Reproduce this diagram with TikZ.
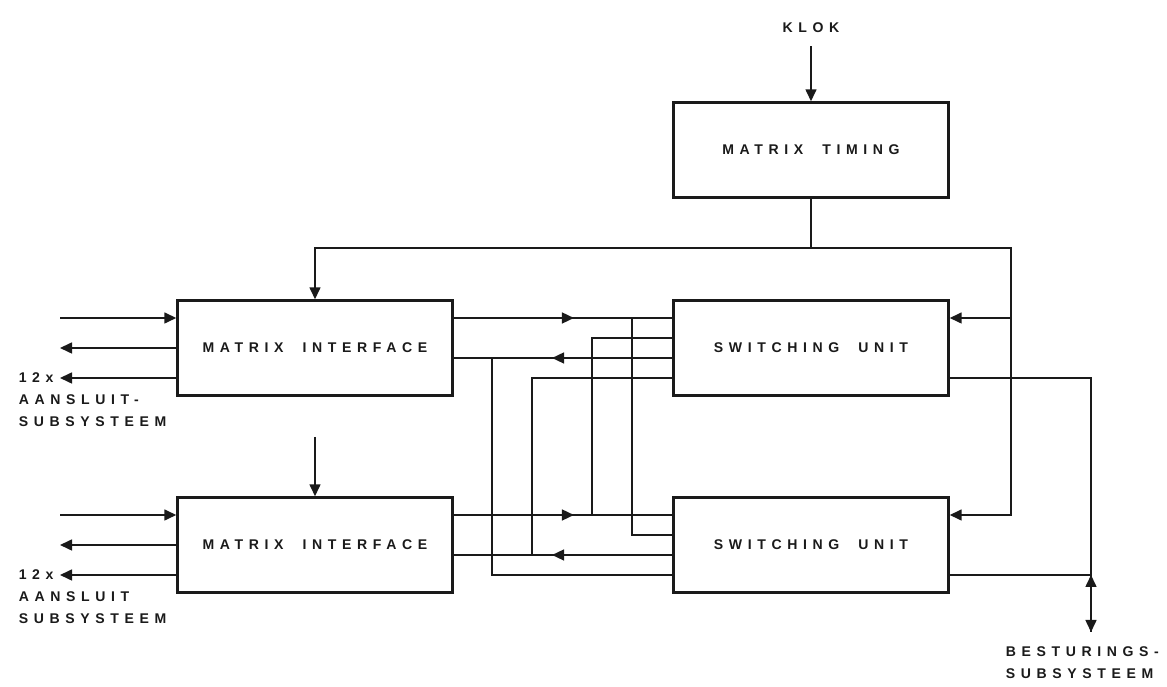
\documentclass[tikz,border=0pt]{standalone}
\usepackage{fontspec}
\usepackage{xcolor}
\usetikzlibrary{arrows.meta,positioning,decorations.markings}
\newfontfamily\blokfont[LetterSpace=40,WordSpace=2,BoldFont={Liberation Sans Bold}]{Liberation Sans}
\definecolor{inkt}{HTML}{1A1A1A}

\begin{document}
\begin{tikzpicture}[font=\fontsize{8}{12.5}\blokfont\bfseries, inkt, line width=0.9pt,
  blok/.style={draw=inkt,line width=1.4pt,minimum width=5.5cm,minimum height=1.9cm,inner sep=0pt},
  tekst/.style={align=left,inner sep=0pt},
  pijl/.style={-{Triangle[length=2.4mm,width=2.2mm]}},
  midpijl/.style={postaction={decorate},decoration={markings,mark=at position 0.55 with {\arrow{Triangle[length=2.4mm,width=2.2mm]}}}}]
\useasboundingbox (0,0) rectangle (23.34,13.74);
% blokken
\node[blok] (timing) at (16.22,10.74) {MATRIX TIMING};
\node (klok) at (16.22,13.18) {KLOK};
\coordinate (rand) at (1.2,0);
\coordinate (x1) at (9.84,0);
\coordinate (x2) at (10.64,0);
\coordinate (x3) at (11.84,0);
\coordinate (x4) at (12.64,0);
\coordinate (klokbus) at (20.22,8.78);
\coordinate (best) at (21.82,1.10);
\foreach \r/\y/\t in {1/6.78/AANSLUIT-,2/2.84/AANSLUIT}{
  \node[blok] (mi\r) at (6.30,\y) {MATRIX INTERFACE};
  \node[blok] (su\r) at (16.22,\y) {SWITCHING UNIT};
  \coordinate (mi\r-w1) at ([yshift=6mm]mi\r.west);
  \coordinate (mi\r-w2) at (mi\r.west);
  \coordinate (mi\r-w3) at ([yshift=-6mm]mi\r.west);
  \coordinate (mi\r-uit) at ([yshift=6mm]mi\r.east);
  \coordinate (mi\r-in) at ([yshift=-2mm]mi\r.east);
  \coordinate (su\r-a) at ([yshift=6mm]su\r.west);
  \coordinate (su\r-b) at ([yshift=2mm]su\r.west);
  \coordinate (su\r-c) at ([yshift=-2mm]su\r.west);
  \coordinate (su\r-d) at ([yshift=-6mm]su\r.west);
  \coordinate (su\r-in) at ([yshift=6mm]su\r.east);
  \coordinate (su\r-uit) at ([yshift=-6mm]su\r.east);
  % aansluitingen links
  \draw[pijl] (rand |- mi\r-w1) -- (mi\r-w1);
  \draw[pijl] (mi\r-w2) -- (rand |- mi\r-w2);
  \draw[pijl] (mi\r-w3) -- (rand |- mi\r-w3);
  \node[tekst,anchor=west] (tal\r) at (0.36,\y-0.6) {12x};
  \node[tekst,anchor=north west] (aan\r) at (0.36,\y-0.91) {\t\\SUBSYSTEEM};
  % interface <-> switching unit
  \draw[midpijl] (mi\r-uit) -- (su\r-a);
  \draw[midpijl] (su\r-c) -- (mi\r-in);
}
% kruisverbindingen
\draw (mi1-uit -| x4) |- (su2-b);
\draw (mi2-uit -| x3) |- (su1-b);
\draw (su2-d) -| (x1 |- mi1-in);
\draw (su1-d) -| (x2 |- mi2-in);
% klok en timing
\draw[pijl,shorten <=1.3mm] (klok) -- (timing);
\draw[pijl] (timing.south) -- (timing.south |- klokbus) -| (mi1.north);
\draw[pijl] (timing.south |- klokbus) -- (klokbus) |- (su2-in);
\draw[pijl] (klokbus |- su1-in) -- (su1-in);
\coordinate (mi2boven) at ([yshift=1.19cm]mi2.north);
\draw[pijl] (mi2boven) -- (mi2.north);
% besturing
\draw (su1-uit) -| (best);
\draw (su2-uit) -- (su2-uit -| best);
\draw[{Triangle[length=2.4mm,width=2.2mm]}-{Triangle[length=2.4mm,width=2.2mm]}] (su2-uit -| best) -- (best);
\node[tekst,anchor=north west] (besturing) at (20.1,0.82) {BESTURINGS-\\SUBSYSTEEM};
\end{tikzpicture}
\end{document}
